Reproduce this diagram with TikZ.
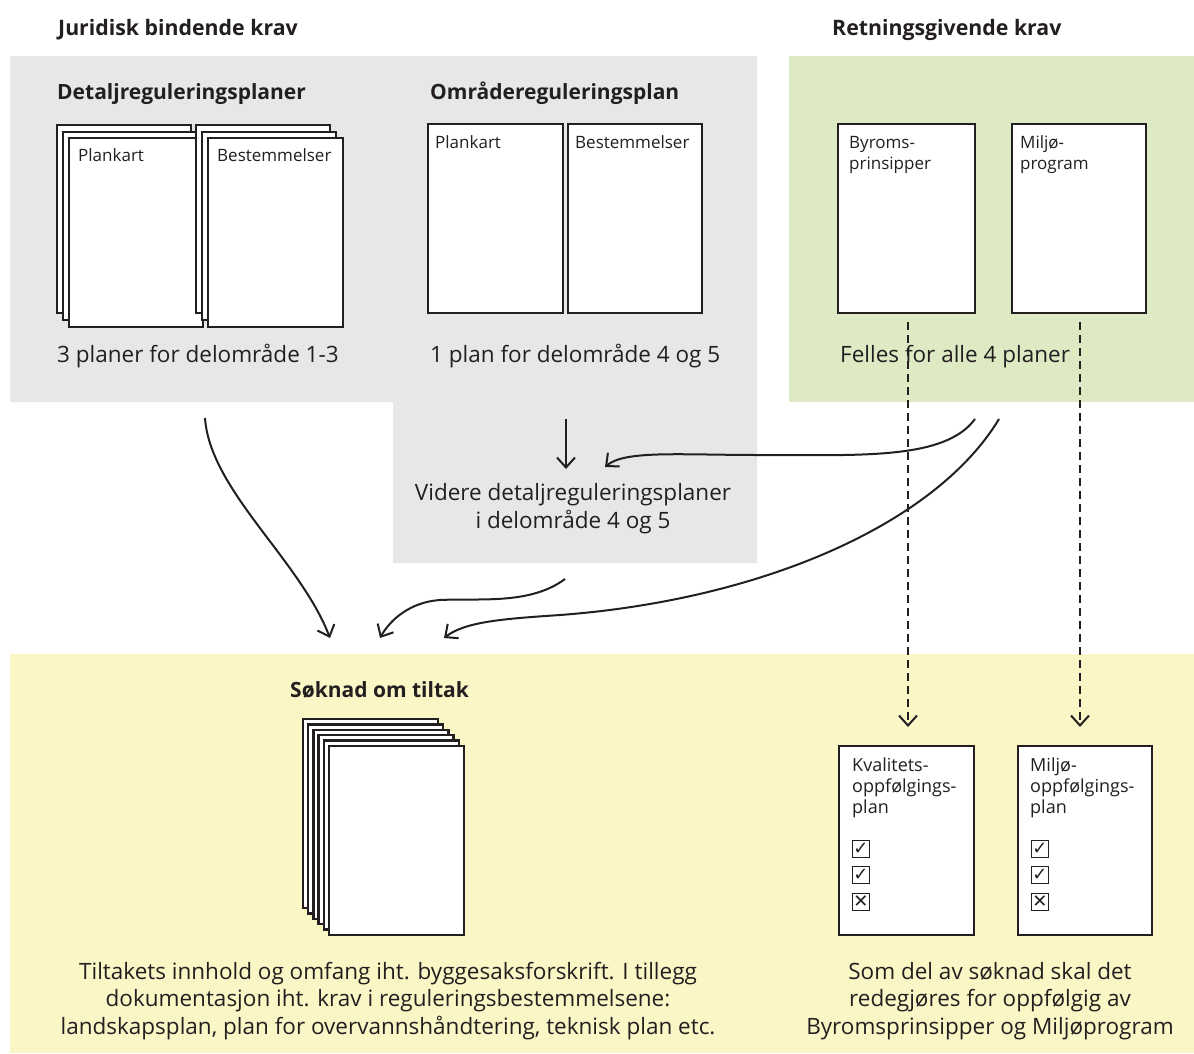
\documentclass[tikz,border=0pt]{standalone}
\usepackage{fontspec}
\setmainfont{Open Sans}
\newfontfamily\symfont{DejaVu Sans}
\usetikzlibrary{arrows.meta}
\definecolor{graybg}{HTML}{E6E7E8}
\definecolor{greenbg}{HTML}{DDEAC4}
\definecolor{yellowbg}{HTML}{FAF6C6}
\definecolor{ink}{HTML}{231F20}
\begin{document}
\begin{tikzpicture}[x=1pt,y=-1pt,
  page/.style={draw=ink, line width=2.5pt, fill=white},
  small/.style={anchor=base west, inner sep=0pt, text=ink, font=\fontsize{17}{21}\selectfont, align=left},
  mid/.style={anchor=base west, inner sep=0pt, text=ink, font=\fontsize{18}{21}\selectfont, align=left},
  body/.style={anchor=base west, inner sep=0pt, text=ink, font=\fontsize{22.5}{28}\selectfont},
  head/.style={anchor=base west, inner sep=0pt, text=ink, font=\fontsize{21}{28}\selectfont\bfseries},
  title/.style={anchor=base west, inner sep=0pt, text=ink, font=\fontsize{21.3}{24}\selectfont\bfseries},
  centertext/.style={anchor=base, inner sep=0pt, text=ink, font=\fontsize{22.5}{27.5}\selectfont, align=center},
  flow/.style={draw=ink, line width=2pt, -{Straight Barb[length=10pt,width=18pt,line width=2pt]}},
  dflow/.style={draw=ink, line width=2pt, dash pattern=on 8pt off 5pt, -{Straight Barb[length=10pt,width=18pt,line width=2pt]}},
  box/.style={draw=ink, line width=1.1pt, minimum size=17pt, inner sep=0pt, font=\symfont\fontsize{18}{18}\selectfont, text=ink}
]
\useasboundingbox (0,0) rectangle (1194,1053);
\fill[white] (0,0) rectangle (1194,1053);
% background areas
\fill[graybg] (10,56) -- (757,56) -- (757,563) -- (393,563) -- (393,402) -- (10,402) -- cycle;
\fill[greenbg] (789,56) rectangle (1194,402);
\fill[yellowbg] (10,654) rectangle (1194,1053);

% titles
\node[title] (t1) at (58,35) {Juridisk bindende krav};
\node[title] (t2) at (832,35) {Retningsgivende krav};
\node[head] (h1) at (57,99) {Detaljreguleringsplaner};
\node[head] (h2) at (430,99) {Områdereguleringsplan};

% Detaljregulering stacks
\draw[page] (57,125) rectangle (191,313);
\draw[page] (63,132) rectangle (197,320);
\draw[page] (69,138) rectangle (203,327);
\draw[page] (196,125) rectangle (330,313);
\draw[page] (202,132) rectangle (336,320);
\draw[page] (208,138) rectangle (343,327);
\node[small] (p1) at (78,161) {Plankart};
\node[small] (b1) at (217,161) {Bestemmelser};

% Omraderegulering pages
\draw[page] (428,124) rectangle (563,313);
\draw[page] (568,124) rectangle (702,313);
\node[small] (p2) at (435,148) {Plankart};
\node[small] (b2) at (575,148) {Bestemmelser};

% green pages
\draw[page] (838,124) rectangle (975,313);
\draw[page] (1012,124) rectangle (1146,313);
\node[small] (by) at (849,169) {Byroms-\\prinsipper};
\node[small] (mp) at (1020,169) {Miljø-\\program};

\node[body] (d13) at (57,362) {3 planer for delområde 1-3};
\node[body] (d45) at (430,362) {1 plan for delområde 4 og 5};
\node[body] (fel) at (840,362) {Felles for alle 4 planer};

\node[centertext] (vid) at (573,528) {Videre detaljreguleringsplaner\\i delområde 4 og 5};

% Soknad stack
\foreach \i in {0,...,5} {
  \draw[page] ({303+5.2*\i},{719+5.4*\i}) rectangle ({438+5.2*\i},{908+5.4*\i});
}
\node[head] (sok) at (290,697) {Søknad om tiltak};

% follow-up pages
\draw[page] (839,746) rectangle (974,935);
\draw[page] (1018,746) rectangle (1152,935);
\node[mid] (kv) at (852,813) {Kvalitets-\\oppfølgings-\\plan};
\node[mid] (mo) at (1030,813) {Miljø-\\oppfølgings-\\plan};
\foreach \x/\n in {861/k,1040/m} {
  \node[box] (\n c1) at (\x,849) {✓};
  \node[box] (\n c2) at (\x,875) {✓};
  \node[box] (\n c3) at (\x,902) {✕};
}

\node[centertext] (btl) at (388,1034) {Tiltakets innhold og omfang iht. byggesaksforskrift. I tillegg\\dokumentasjon iht. krav i reguleringsbestemmelsene:\\landskapsplan, plan for overvannshåndtering, teknisk plan etc.};
\node[centertext] (btr) at (990,1034) {Som del av søknad skal det\\redegjøres for oppfølgig av\\Byromsprinsipper og Miljøprogram};

% connector endpoints
\coordinate (a1s) at (205,418);
\coordinate (a1e) at (330,638);
\coordinate (a2s) at (566,419);
\coordinate (a2e) at (566,469);
\coordinate (a3s) at (975,419);
\coordinate (a3e) at (605,467);
\coordinate (a4s) at (565,579);
\coordinate (a4e) at (380,638);
\coordinate (a5s) at (999,419);
\coordinate (a5e) at (444,638);
\coordinate (d1s) at (908,322);
\coordinate (d1e) at (908,727);
\coordinate (d2s) at (1080,322);
\coordinate (d2e) at (1080,727);

\draw[flow] (a1s) .. controls (210,490) and (300,560) .. (a1e);
\draw[flow] (a2s) -- (a2e);
\draw[flow] (a3s) .. controls (945,460) and (860,455) .. (760,455) .. controls (680,455) and (625,450) .. (a3e);
\draw[flow] (a4s) .. controls (530,605) and (480,598) .. (440,600) .. controls (410,602) and (390,620) .. (a4e);
\draw[flow] (a5s) .. controls (935,525) and (760,600) .. (560,615) .. controls (500,619) and (465,622) .. (a5e);
\draw[dflow] (d1s) -- (d1e);
\draw[dflow] (d2s) -- (d2e);
\end{tikzpicture}
\end{document}
